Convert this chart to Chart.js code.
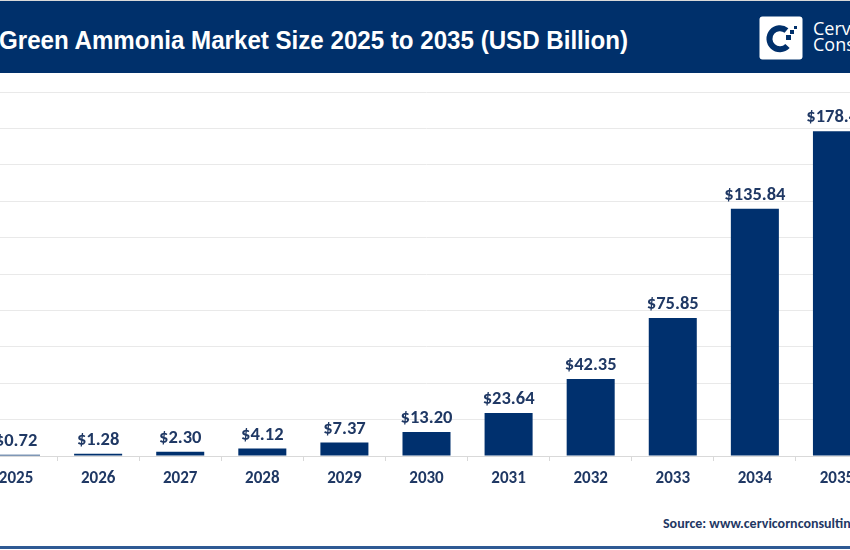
<!DOCTYPE html>
<html>
<head>
<meta charset="utf-8">
<script src="https://cdn.jsdelivr.net/npm/chart.js@4.4.1/dist/chart.umd.min.js"></script>
<style>
  html, body { margin:0; padding:0; width:850px; height:550px; overflow:hidden; background:#ffffff; }
  #topline { position:absolute; left:0; top:0; width:850px; height:1px; background:#d9d9d9; }
  #header { position:absolute; left:0; top:1px; width:850px; height:72px; background:#00306b; }
  #title { position:absolute; left:-1px; top:24px; color:#ffffff; font-family:"Liberation Sans",Arial,sans-serif; font-weight:bold; font-size:26px; line-height:30px; white-space:nowrap; transform-origin:0 50%; }
  #logo { position:absolute; left:759px; top:16px; }
  #brand { position:absolute; left:813px; top:20px; color:#ffffff; font-family:"Open Sans","Lato",sans-serif; font-size:18px; line-height:16px; white-space:nowrap; }
  #wrap { position:absolute; left:-25px; top:74px; width:903px; height:424px; }
  #source { position:absolute; left:663px; top:515px; color:#1f3864; font-family:Carlito,Lato,sans-serif; font-weight:bold; font-size:14px; white-space:nowrap; }
  #bottomline { position:absolute; left:0; top:546px; width:850px; height:3px; background:#2f5a94; }
</style>
</head>
<body>
<div id="topline"></div>
<div id="header">
  <div id="title">Green Ammonia Market Size 2025 to 2035 (USD Billion)</div>
</div>
<svg id="logo" width="44" height="44" viewBox="0 0 44 44">
  <rect x="0.5" y="0.5" width="43" height="43" rx="3" fill="#ffffff"/>
  <path d="M 27.5 14.5 A 10.5 10.5 0 1 0 28.5 30" fill="none" stroke="#00306b" stroke-width="6"/>
  <rect x="27" y="19" width="5" height="5" fill="#00306b"/>
  <rect x="31" y="14" width="4" height="4" fill="#00306b"/>
  <rect x="35" y="10" width="3" height="3" fill="#00306b"/>
</svg>
<div id="brand">Cervicorn<br>Consulting</div>
<div id="wrap"><canvas id="c"></canvas></div>
<div id="source">Source: www.cervicornconsulting.com</div>
<div id="bottomline"></div>
<script>
const categories = ["2025","2026","2027","2028","2029","2030","2031","2032","2033","2034","2035"];
const marketSize = [0.72, 1.28, 2.30, 4.12, 7.37, 13.20, 23.64, 42.35, 75.85, 135.84, 178.40];
const yTicks = [0, 20, 40, 60, 80, 100, 120, 140, 160, 180, 200];

// condense title to match the narrow face of the original
(function () {
  const t = document.getElementById("title");
  const w = t.getBoundingClientRect().width;
  t.style.transform = "scaleX(" + (629 / w) + ")";
})();

const labelFont = "Carlito, Lato, sans-serif";
const textColor = "#1f3864";

const valueLabels = {
  id: "valueLabels",
  afterDatasetsDraw(chart) {
    const ctx = chart.ctx;
    const meta = chart.getDatasetMeta(0);
    ctx.save();
    ctx.fillStyle = textColor;
    ctx.font = "bold 18.5px " + labelFont;
    ctx.textAlign = "center";
    ctx.textBaseline = "alphabetic";
    meta.data.forEach((bar, i) => {
      const v = chart.data.datasets[0].data[i];
      ctx.fillText("$" + v.toFixed(2), bar.x, bar.y - 9);
    });
    ctx.restore();
  }
};

new Chart(document.getElementById("c"), {
  type: "bar",
  data: {
    labels: categories,
    datasets: [{
      data: marketSize,
      backgroundColor: "#00306e",
      borderWidth: 0,
      categoryPercentage: 1.0,
      barPercentage: 0.585
    }]
  },
  options: {
    responsive: true,
    maintainAspectRatio: false,
    animation: false,
    layout: { padding: { top: 18, left: 0, right: 0, bottom: 0 } },
    plugins: { legend: { display: false }, tooltip: { enabled: false }, title: { display: false } },
    scales: {
      x: {
        offset: true,
        grid: { display: true, drawOnChartArea: false, drawTicks: true, tickLength: 5, color: "#d9d9d9" },
        border: { display: true, color: "#d9d9d9", width: 1 },
        ticks: { color: textColor, font: { family: labelFont, size: 17, weight: "bold" }, padding: 8, maxRotation: 0, autoSkip: false },
        afterFit(s) { s.height = 42; }
      },
      y: {
        min: 0, max: 200,
        afterBuildTicks(s) { s.ticks = yTicks.map(v => ({ value: v })); },
        grid: { color: "#e9e9e9", drawTicks: false },
        border: { display: false },
        ticks: { display: false },
        afterFit(s) { s.width = 0; }
      }
    }
  },
  plugins: [valueLabels]
});
</script>
</body>
</html>
